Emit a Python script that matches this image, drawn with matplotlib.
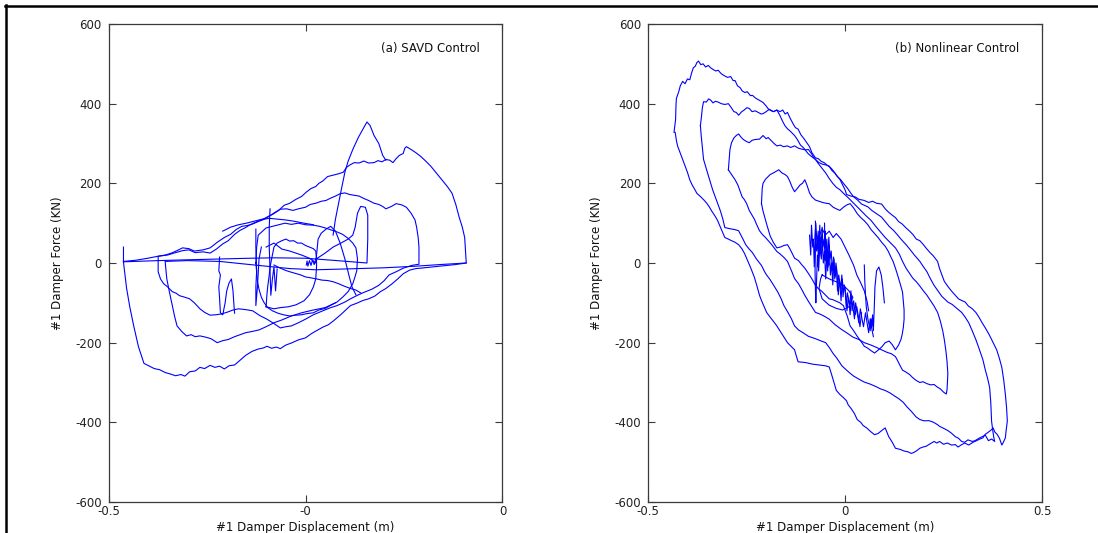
import matplotlib.pyplot as plt
from matplotlib.lines import Line2D

# ---- data (displacement m, force KN) ----
savd_paths = [
    # outer loop
    [(-0.481, 40), (-0.481, 2), (-0.479, -30), (-0.477, -64), (-0.473, -110), (-0.468, -158),
     (-0.462, -210), (-0.455, -252), (-0.449, -258), (-0.442, -265), (-0.435, -268), (-0.428, -275),
     (-0.421, -279), (-0.415, -283), (-0.408, -280), (-0.403, -284), (-0.397, -273), (-0.390, -271),
     (-0.384, -262), (-0.378, -265), (-0.371, -257), (-0.365, -262), (-0.359, -259), (-0.353, -266),
     (-0.347, -258), (-0.340, -256), (-0.333, -244), (-0.326, -232), (-0.318, -222), (-0.310, -216),
     (-0.303, -213), (-0.299, -209), (-0.293, -214), (-0.287, -211), (-0.282, -215), (-0.275, -206),
     (-0.268, -201), (-0.259, -193), (-0.250, -188), (-0.243, -178), (-0.237, -171), (-0.228, -161),
     (-0.221, -155), (-0.215, -146), (-0.206, -131), (-0.199, -118), (-0.193, -107), (-0.185, -101),
     (-0.177, -94), (-0.170, -90), (-0.162, -83), (-0.155, -72), (-0.148, -64), (-0.140, -52),
     (-0.133, -40), (-0.126, -27), (-0.118, -18), (-0.110, -14), (-0.104, -13), (-0.090, -10),
     (-0.075, -7), (-0.060, -4), (-0.046, 0), (-0.047, 30), (-0.048, 64), (-0.051, 90),
     (-0.055, 115), (-0.059, 145), (-0.064, 175), (-0.070, 192), (-0.077, 209), (-0.084, 226),
     (-0.091, 243), (-0.097, 255), (-0.104, 268), (-0.110, 277), (-0.116, 285), (-0.122, 292),
     (-0.124, 288), (-0.126, 275), (-0.131, 270), (-0.135, 262), (-0.139, 252), (-0.143, 258),
     (-0.148, 260), (-0.153, 254), (-0.158, 257), (-0.163, 252), (-0.170, 251), (-0.176, 256),
     (-0.182, 251), (-0.188, 252), (-0.193, 247), (-0.198, 240), (-0.202, 228), (-0.208, 224),
     (-0.214, 221), (-0.222, 217), (-0.228, 206), (-0.233, 200), (-0.237, 192), (-0.243, 187),
     (-0.249, 178), (-0.255, 167), (-0.262, 160), (-0.270, 150), (-0.277, 145), (-0.284, 132),
     (-0.291, 123), (-0.298, 116), (-0.304, 110), (-0.309, 106), (-0.316, 100), (-0.322, 94),
     (-0.326, 89), (-0.333, 82), (-0.340, 72), (-0.348, 56), (-0.355, 48), (-0.363, 35),
     (-0.371, 25), (-0.380, 28), (-0.390, 26), (-0.398, 33), (-0.406, 31), (-0.415, 26),
     (-0.425, 20), (-0.437, 17), (-0.450, 12), (-0.465, 7), (-0.481, 4)],
    # the 350 KN peak
    [(-0.215, 70), (-0.212, 110), (-0.210, 130), (-0.205, 180), (-0.200, 228), (-0.196, 255),
     (-0.190, 285), (-0.183, 315), (-0.176, 340), (-0.172, 354), (-0.168, 345), (-0.163, 320),
     (-0.157, 300), (-0.152, 270), (-0.148, 258)],
    # second loop
    [(-0.106, 0), (-0.106, 40), (-0.107, 64), (-0.109, 90), (-0.111, 108), (-0.116, 125),
     (-0.122, 140), (-0.128, 146), (-0.135, 149), (-0.141, 142), (-0.148, 136), (-0.152, 142),
     (-0.157, 147), (-0.163, 150), (-0.170, 157), (-0.176, 162), (-0.182, 168), (-0.188, 170),
     (-0.194, 172), (-0.200, 176), (-0.206, 174), (-0.212, 168), (-0.218, 163), (-0.224, 157),
     (-0.230, 155), (-0.237, 150), (-0.244, 147), (-0.250, 140), (-0.259, 136), (-0.266, 132),
     (-0.274, 136), (-0.282, 135), (-0.288, 128), (-0.295, 119), (-0.302, 110), (-0.310, 104),
     (-0.317, 98), (-0.324, 94), (-0.331, 92), (-0.338, 84), (-0.345, 72), (-0.353, 64),
     (-0.362, 52), (-0.371, 38), (-0.380, 33), (-0.391, 30), (-0.398, 36), (-0.406, 38),
     (-0.412, 32), (-0.420, 25), (-0.428, 20), (-0.437, 17), (-0.437, 4), (-0.437, -22),
     (-0.434, -40), (-0.430, -52), (-0.425, -60), (-0.419, -72), (-0.414, -76), (-0.410, -82),
     (-0.403, -86), (-0.397, -90), (-0.391, -100), (-0.384, -115), (-0.378, -124), (-0.371, -131),
     (-0.364, -130), (-0.357, -128), (-0.350, -124), (-0.342, -118), (-0.335, -115), (-0.326, -117),
     (-0.317, -120), (-0.308, -132), (-0.299, -141), (-0.290, -152), (-0.282, -163), (-0.275, -160),
     (-0.268, -158), (-0.259, -150), (-0.250, -141), (-0.240, -130), (-0.228, -120), (-0.218, -112),
     (-0.210, -107), (-0.200, -98), (-0.193, -90), (-0.183, -80), (-0.175, -73), (-0.166, -66),
     (-0.157, -56), (-0.150, -44), (-0.144, -30), (-0.135, -22), (-0.126, -13), (-0.115, -6),
     (-0.106, -3)],
    # third loop (lower left)
    [(-0.428, 2), (-0.427, -20), (-0.426, -40), (-0.423, -70), (-0.419, -107), (-0.416, -135),
     (-0.413, -158), (-0.407, -172), (-0.401, -183), (-0.395, -180), (-0.390, -185), (-0.384, -183),
     (-0.377, -186), (-0.370, -190), (-0.362, -200), (-0.355, -195), (-0.348, -192), (-0.340, -185),
     (-0.333, -180), (-0.326, -175), (-0.318, -172), (-0.309, -168), (-0.300, -160), (-0.290, -150),
     (-0.280, -143), (-0.268, -133), (-0.255, -125), (-0.240, -118), (-0.225, -112), (-0.212, -100)],
    # horizontal chords and vertical jump
    [(-0.481, 3), (-0.437, 6), (-0.400, 8), (-0.360, 10), (-0.320, 12), (-0.290, 13),
     (-0.250, 12), (-0.210, 6), (-0.172, 0), (-0.171, 60), (-0.171, 120), (-0.174, 140),
     (-0.180, 142), (-0.184, 125), (-0.187, 90), (-0.190, 70), (-0.196, 60), (-0.205, 50),
     (-0.215, 40), (-0.225, 25), (-0.235, 12)],
    [(-0.046, 0), (-0.080, -4), (-0.110, -8), (-0.150, -12), (-0.200, -15), (-0.237, -17),
     (-0.270, -14), (-0.300, -8), (-0.330, -2), (-0.359, 4), (-0.400, 6), (-0.428, 4)],
    # inner eye
    [(-0.313, 0), (-0.312, 40), (-0.310, 70), (-0.300, 88), (-0.292, 92), (-0.284, 96),
     (-0.276, 100), (-0.268, 97), (-0.259, 100), (-0.250, 96), (-0.240, 95), (-0.232, 92),
     (-0.225, 88), (-0.216, 82), (-0.210, 78), (-0.203, 72), (-0.196, 62), (-0.190, 50),
     (-0.186, 38), (-0.184, 10), (-0.185, -20), (-0.188, -40), (-0.190, -52), (-0.196, -72),
     (-0.203, -86), (-0.210, -98), (-0.218, -106), (-0.225, -114), (-0.233, -118), (-0.240, -125),
     (-0.248, -127), (-0.255, -130), (-0.262, -131), (-0.270, -133), (-0.278, -130), (-0.285, -126),
     (-0.292, -120), (-0.298, -112), (-0.303, -98), (-0.306, -86), (-0.309, -66), (-0.311, -46),
     (-0.313, 0)],
    # inner loops around the centre
    [(-0.300, -110), (-0.299, -80), (-0.298, -60), (-0.296, -30), (-0.295, -10), (-0.292, 20),
     (-0.290, 40), (-0.286, 50), (-0.280, 56), (-0.275, 60), (-0.270, 55), (-0.265, 56),
     (-0.260, 50), (-0.255, 50), (-0.250, 44), (-0.245, 40), (-0.240, 36), (-0.237, 30),
     (-0.236, 10), (-0.236, -10), (-0.237, -40), (-0.240, -60), (-0.245, -80), (-0.252, -95),
     (-0.262, -105), (-0.272, -110), (-0.282, -112), (-0.290, -115), (-0.300, -110)],
    [(-0.290, -5), (-0.283, -12), (-0.276, -18), (-0.270, -22), (-0.263, -26), (-0.256, -30),
     (-0.250, -35), (-0.244, -37), (-0.236, -40), (-0.229, -43), (-0.222, -44), (-0.215, -47),
     (-0.208, -52), (-0.201, -58), (-0.193, -64), (-0.186, -68), (-0.180, -75)],
    [(-0.355, 80), (-0.345, 90), (-0.335, 96), (-0.325, 100), (-0.315, 105), (-0.305, 110),
     (-0.295, 112), (-0.285, 110), (-0.275, 108), (-0.265, 105), (-0.252, 100), (-0.240, 96)],
    # spikes
    [(-0.359, 15), (-0.360, -20), (-0.358, -30), (-0.360, -60), (-0.359, -90), (-0.358, -125),
     (-0.355, -130), (-0.352, -100), (-0.350, -70), (-0.347, -50), (-0.344, -40), (-0.342, -70),
     (-0.341, -100), (-0.340, -126)],
    [(-0.313, 85), (-0.313, 40), (-0.312, -20), (-0.313, -60), (-0.313, -107), (-0.311, -60),
     (-0.309, 10), (-0.306, 40)],
    [(-0.295, 136), (-0.296, 90), (-0.296, 40), (-0.295, -20), (-0.294, -81), (-0.292, -40),
     (-0.290, -10), (-0.288, -70), (-0.286, -15)],
    [(-0.300, 40), (-0.290, 50), (-0.280, 35), (-0.270, 30), (-0.255, 20), (-0.245, 12),
     (-0.237, 0), (-0.234, 60), (-0.230, 75), (-0.224, 85), (-0.218, 92), (-0.212, 80),
     (-0.206, 50), (-0.200, 10), (-0.195, -30), (-0.191, -60), (-0.186, -80)],
    [(-0.249, -5), (-0.248, 5), (-0.247, -8), (-0.245, 6), (-0.243, -6), (-0.241, 8),
     (-0.239, -4), (-0.237, 10)],
]

nonlinear_paths = [
    # outermost loop
    [(-0.434, 328), (-0.430, 360), (-0.429, 395), (-0.428, 413), (-0.422, 430), (-0.418, 445),
     (-0.412, 456), (-0.406, 450), (-0.400, 462), (-0.394, 460), (-0.389, 478), (-0.385, 490),
     (-0.380, 494), (-0.376, 503), (-0.372, 507), (-0.366, 498), (-0.360, 500), (-0.354, 492),
     (-0.347, 496), (-0.341, 490), (-0.335, 486), (-0.328, 482), (-0.322, 484), (-0.314, 475),
     (-0.306, 470), (-0.298, 466), (-0.290, 468), (-0.284, 458), (-0.279, 458), (-0.273, 445),
     (-0.266, 440), (-0.261, 432), (-0.254, 428), (-0.248, 430), (-0.240, 420), (-0.235, 421),
     (-0.227, 414), (-0.220, 410), (-0.213, 406), (-0.208, 403), (-0.200, 394), (-0.194, 386),
     (-0.187, 382), (-0.181, 380), (-0.173, 384), (-0.165, 380), (-0.158, 384), (-0.152, 374),
     (-0.146, 378), (-0.140, 365), (-0.132, 350), (-0.126, 340), (-0.119, 336), (-0.112, 322),
     (-0.104, 312), (-0.097, 302), (-0.090, 292), (-0.084, 277), (-0.079, 270), (-0.075, 264),
     (-0.068, 262), (-0.060, 255), (-0.053, 252), (-0.046, 246), (-0.040, 242), (-0.033, 232),
     (-0.026, 226), (-0.020, 218), (-0.013, 210), (-0.006, 196), (0.000, 184), (0.004, 172),
     (0.015, 168), (0.026, 166), (0.035, 160), (0.049, 157), (0.060, 152), (0.070, 155),
     (0.080, 150), (0.093, 148), (0.102, 136), (0.110, 128), (0.120, 120), (0.128, 114),
     (0.136, 104), (0.145, 98), (0.155, 88), (0.164, 80), (0.172, 72), (0.181, 60), (0.190, 56),
     (0.199, 46), (0.207, 36), (0.216, 26), (0.224, 18), (0.235, 4), (0.240, -14), (0.246, -30),
     (0.252, -46), (0.262, -60), (0.270, -70), (0.279, -80), (0.288, -90), (0.296, -94),
     (0.305, -98), (0.313, -108), (0.322, -114), (0.332, -124), (0.340, -136), (0.348, -150),
     (0.358, -166), (0.366, -180), (0.374, -196), (0.385, -218), (0.392, -240), (0.398, -262),
     (0.403, -295), (0.407, -330), (0.410, -362), (0.412, -397), (0.409, -420), (0.407, -439),
     (0.402, -450), (0.398, -457), (0.392, -440), (0.386, -430), (0.380, -424), (0.376, -414),
     (0.370, -420), (0.362, -426), (0.356, -430), (0.350, -439), (0.342, -442), (0.334, -446),
     (0.325, -450), (0.314, -457), (0.304, -452), (0.296, -456), (0.287, -462), (0.280, -456),
     (0.270, -457), (0.260, -452), (0.250, -455), (0.240, -448), (0.233, -452), (0.226, -448),
     (0.216, -454), (0.206, -460), (0.198, -462), (0.190, -465), (0.181, -472), (0.174, -476),
     (0.168, -478), (0.160, -474), (0.150, -472), (0.140, -468), (0.128, -465), (0.120, -450),
     (0.111, -436), (0.102, -414), (0.094, -420), (0.084, -428), (0.075, -431), (0.066, -424),
     (0.055, -414), (0.046, -408), (0.040, -400), (0.031, -393), (0.024, -378), (0.016, -366),
     (0.008, -356), (0.004, -346), (-0.004, -338), (-0.013, -330), (-0.022, -320), (-0.028, -300),
     (-0.034, -280), (-0.040, -261), (-0.050, -258), (-0.066, -256), (-0.082, -254), (-0.100, -250),
     (-0.119, -248), (-0.124, -232), (-0.128, -218), (-0.136, -210), (-0.146, -200), (-0.155, -186),
     (-0.164, -172), (-0.173, -158), (-0.182, -146), (-0.190, -136), (-0.199, -124), (-0.206, -108),
     (-0.212, -94), (-0.217, -81), (-0.224, -56), (-0.230, -36), (-0.239, -13), (-0.248, 8),
     (-0.255, 24), (-0.262, 36), (-0.270, 46), (-0.279, 52), (-0.288, 56), (-0.296, 60),
     (-0.305, 64), (-0.312, 80), (-0.318, 94), (-0.323, 106), (-0.330, 118), (-0.338, 130),
     (-0.344, 140), (-0.350, 149), (-0.358, 158), (-0.366, 166), (-0.376, 175), (-0.382, 186),
     (-0.388, 196), (-0.394, 209), (-0.400, 228), (-0.406, 244), (-0.412, 260), (-0.418, 276),
     (-0.425, 294), (-0.428, 308), (-0.431, 328)],
    # second loop
    [(-0.367, 345), (-0.364, 370), (-0.362, 390), (-0.359, 405), (-0.352, 404), (-0.346, 412),
     (-0.341, 409), (-0.335, 402), (-0.329, 406), (-0.322, 404), (-0.314, 400), (-0.305, 398),
     (-0.296, 400), (-0.290, 392), (-0.282, 380), (-0.276, 378), (-0.270, 371), (-0.262, 380),
     (-0.256, 384), (-0.249, 390), (-0.243, 388), (-0.236, 380), (-0.228, 382), (-0.220, 378),
     (-0.213, 374), (-0.208, 375), (-0.200, 380), (-0.192, 386), (-0.182, 380), (-0.173, 384),
     (-0.166, 372), (-0.158, 355), (-0.152, 344), (-0.146, 337), (-0.140, 332), (-0.134, 326),
     (-0.128, 320), (-0.121, 310), (-0.113, 296), (-0.106, 290), (-0.102, 285), (-0.094, 275),
     (-0.086, 268), (-0.075, 260), (-0.066, 252), (-0.057, 248), (-0.048, 246), (-0.040, 243),
     (-0.030, 232), (-0.020, 218), (-0.010, 208), (-0.004, 200), (0.006, 188), (0.015, 175),
     (0.022, 166), (0.032, 158), (0.042, 148), (0.058, 141), (0.068, 132), (0.080, 124),
     (0.093, 115), (0.102, 104), (0.112, 92), (0.124, 81), (0.132, 72), (0.142, 60),
     (0.155, 46), (0.165, 34), (0.176, 20), (0.190, 4), (0.198, -8), (0.208, -22),
     (0.216, -38), (0.226, -56), (0.236, -70), (0.246, -84), (0.261, -98), (0.272, -104),
     (0.284, -114), (0.296, -124), (0.305, -136), (0.314, -150), (0.322, -168), (0.332, -192),
     (0.340, -214), (0.350, -243), (0.356, -268), (0.362, -290), (0.367, -312), (0.370, -350),
     (0.372, -397), (0.375, -420), (0.378, -440), (0.380, -448), (0.372, -442), (0.364, -446),
     (0.356, -432), (0.350, -435), (0.340, -440), (0.330, -446), (0.323, -448), (0.312, -444),
     (0.304, -450), (0.296, -448), (0.288, -440), (0.280, -436), (0.270, -427), (0.260, -420),
     (0.250, -415), (0.240, -410), (0.235, -406), (0.225, -400), (0.214, -396), (0.200, -396),
     (0.190, -393), (0.180, -386), (0.168, -372), (0.158, -362), (0.148, -350), (0.137, -341),
     (0.126, -334), (0.114, -326), (0.102, -320), (0.090, -316), (0.078, -310), (0.064, -304),
     (0.049, -299), (0.036, -292), (0.022, -284), (0.012, -276), (0.004, -269), (-0.008, -258),
     (-0.020, -240), (-0.031, -226), (-0.040, -212), (-0.049, -200), (-0.060, -196), (-0.075, -190),
     (-0.093, -184), (-0.105, -176), (-0.118, -168), (-0.128, -158), (-0.136, -140), (-0.146, -122),
     (-0.155, -107), (-0.162, -90), (-0.170, -74), (-0.181, -56), (-0.190, -42), (-0.199, -30),
     (-0.204, -22), (-0.212, -6), (-0.220, 4), (-0.226, 12), (-0.235, 26), (-0.244, 36),
     (-0.252, 46), (-0.260, 62), (-0.270, 81), (-0.280, 84), (-0.292, 86), (-0.305, 89),
     (-0.310, 110), (-0.316, 130), (-0.323, 149), (-0.330, 168), (-0.336, 184), (-0.341, 200),
     (-0.347, 220), (-0.353, 240), (-0.359, 260), (-0.362, 290), (-0.365, 320), (-0.367, 345)],
    # third loop
    [(-0.296, 234), (-0.294, 260), (-0.292, 285), (-0.288, 302), (-0.282, 314), (-0.276, 320),
     (-0.270, 324), (-0.264, 316), (-0.258, 310), (-0.250, 305), (-0.243, 302), (-0.236, 308),
     (-0.228, 310), (-0.217, 311), (-0.208, 320), (-0.200, 312), (-0.195, 315), (-0.188, 308),
     (-0.180, 300), (-0.173, 294), (-0.164, 296), (-0.156, 292), (-0.146, 294), (-0.138, 290),
     (-0.128, 294), (-0.118, 288), (-0.110, 286), (-0.100, 284), (-0.093, 285), (-0.086, 276),
     (-0.080, 266), (-0.075, 260), (-0.068, 250), (-0.060, 240), (-0.049, 226), (-0.040, 212),
     (-0.031, 200), (-0.022, 190), (-0.013, 184), (-0.004, 175), (0.008, 164), (0.020, 152),
     (0.031, 141), (0.042, 130), (0.054, 118), (0.066, 107), (0.078, 92), (0.090, 78),
     (0.102, 64), (0.114, 52), (0.128, 38), (0.138, 22), (0.146, 4), (0.155, -13),
     (0.164, -26), (0.172, -38), (0.181, -47), (0.190, -58), (0.199, -70), (0.208, -81),
     (0.218, -96), (0.226, -108), (0.235, -124), (0.242, -146), (0.248, -170), (0.252, -192),
     (0.256, -220), (0.259, -248), (0.261, -278), (0.260, -300), (0.259, -318), (0.257, -329),
     (0.250, -324), (0.242, -316), (0.235, -312), (0.226, -305), (0.218, -306), (0.208, -303),
     (0.198, -298), (0.190, -300), (0.181, -295), (0.172, -288), (0.164, -280), (0.155, -274),
     (0.146, -269), (0.140, -258), (0.134, -246), (0.128, -235), (0.118, -228), (0.106, -224),
     (0.093, -218), (0.080, -212), (0.066, -206), (0.049, -200), (0.035, -192), (0.020, -186),
     (0.004, -175), (-0.010, -166), (-0.025, -155), (-0.040, -141), (-0.052, -134), (-0.064, -128),
     (-0.075, -124), (-0.084, -110), (-0.093, -96), (-0.102, -81), (-0.110, -66), (-0.118, -52),
     (-0.128, -39), (-0.134, -24), (-0.140, -10), (-0.146, 4), (-0.155, 14), (-0.164, 22),
     (-0.173, 29), (-0.186, 46), (-0.200, 62), (-0.210, 72), (-0.217, 81), (-0.224, 96),
     (-0.230, 110), (-0.236, 120), (-0.243, 132), (-0.250, 150), (-0.256, 160), (-0.261, 166),
     (-0.266, 180), (-0.272, 196), (-0.279, 209), (-0.288, 222), (-0.296, 234)],
    # fourth loop
    [(-0.212, 149), (-0.211, 170), (-0.210, 188), (-0.208, 200), (-0.202, 210), (-0.196, 216),
     (-0.190, 222), (-0.182, 226), (-0.175, 230), (-0.168, 234), (-0.160, 226), (-0.152, 222),
     (-0.146, 217), (-0.140, 205), (-0.134, 190), (-0.128, 179), (-0.122, 186), (-0.114, 196),
     (-0.108, 200), (-0.102, 209), (-0.096, 194), (-0.090, 176), (-0.084, 166), (-0.075, 158),
     (-0.066, 155), (-0.057, 152), (-0.048, 150), (-0.040, 149), (-0.030, 140), (-0.022, 136),
     (-0.013, 132), (-0.004, 140), (0.005, 146), (0.013, 149), (0.022, 138), (0.031, 124),
     (0.040, 114), (0.049, 106), (0.058, 96), (0.066, 84), (0.075, 74), (0.084, 64),
     (0.093, 52), (0.102, 42), (0.110, 29), (0.116, 16), (0.122, 4), (0.128, -13),
     (0.134, -32), (0.140, -52), (0.146, -73), (0.148, -96), (0.150, -118), (0.150, -141),
     (0.148, -162), (0.145, -180), (0.142, -192), (0.136, -206), (0.128, -218), (0.120, -205),
     (0.112, -196), (0.102, -200), (0.094, -210), (0.085, -218), (0.075, -226), (0.066, -220),
     (0.058, -214), (0.049, -209), (0.040, -196), (0.031, -184), (0.022, -170), (0.013, -158),
     (0.006, -134), (0.000, -118), (-0.004, -107), (-0.013, -100), (-0.022, -96), (-0.031, -92),
     (-0.040, -90), (-0.050, -80), (-0.060, -70), (-0.068, -64), (-0.075, -56), (-0.084, -40),
     (-0.093, -26), (-0.102, -13), (-0.110, -4), (-0.118, 6), (-0.128, 12), (-0.134, 24),
     (-0.140, 36), (-0.146, 46), (-0.155, 44), (-0.164, 40), (-0.173, 38), (-0.182, 52),
     (-0.190, 68), (-0.199, 98), (-0.204, 116), (-0.208, 130), (-0.212, 149)],
    # dense noisy core
    [(-0.090, 70), (-0.087, 20), (-0.085, 95), (-0.082, 40), (-0.080, 60), (-0.078, -10),
     (-0.075, 85), (-0.072, 30), (-0.069, 55), (-0.067, -20), (-0.064, 40), (-0.060, 10),
     (-0.058, 70), (-0.055, 0), (-0.052, 30), (-0.049, -40), (-0.046, 20), (-0.043, -10),
     (-0.040, 45), (-0.037, -30), (-0.034, 0), (-0.031, -55), (-0.028, 10), (-0.025, -35),
     (-0.022, -10), (-0.019, -70), (-0.016, -30), (-0.013, -50), (-0.010, -95), (-0.007, -40),
     (-0.004, -70), (0.000, -60), (0.003, -110), (0.006, -75), (0.010, -95), (0.013, -130),
     (0.016, -85), (0.020, -110), (0.024, -140), (0.027, -100), (0.031, -125), (0.035, -150),
     (0.039, -115), (0.043, -140), (0.047, -160), (0.052, -125), (0.056, -150), (0.060, -175),
     (0.064, -140), (0.068, -165), (0.072, -185)],
    [(-0.076, 60), (-0.074, 100), (-0.071, 45), (-0.068, 80), (-0.066, 20), (-0.063, 65),
     (-0.061, 35), (-0.058, 90), (-0.056, 40), (-0.053, 60), (-0.050, 5), (-0.047, 50),
     (-0.044, 15), (-0.041, 65), (-0.038, 10), (-0.035, 30), (-0.032, -20), (-0.029, 15),
     (-0.026, -40), (-0.023, 0), (-0.020, -25), (-0.017, -80), (-0.014, -45), (-0.011, -65),
     (-0.008, -30), (-0.005, -85), (-0.002, -55), (0.002, -80), (0.005, -120), (0.008, -90),
     (0.012, -105), (0.015, -70), (0.018, -120), (0.022, -95), (0.026, -130), (0.030, -110),
     (0.034, -135), (0.038, -160), (0.042, -125)],
    [(-0.075, 105), (-0.075, 40), (-0.076, -20), (-0.075, -70), (-0.074, -100), (-0.072, -40),
     (-0.070, 20), (-0.068, -10), (-0.066, 50), (-0.064, 95), (-0.062, 30)],
    [(-0.052, 100), (-0.051, 40), (-0.050, 80), (-0.048, 10), (-0.046, 60), (-0.044, -20),
     (-0.042, 30), (-0.040, -5)],
    # small inner loops
    [(-0.058, -30), (-0.040, -40), (-0.020, -48), (-0.004, -56), (0.010, -70), (0.020, -86),
     (0.010, -110), (-0.006, -118), (-0.022, -114), (-0.040, -106), (-0.058, -90), (-0.066, -64),
     (-0.062, -40), (-0.058, -30)],
    [(-0.066, 66), (-0.058, 86), (-0.050, 70), (-0.040, 80), (-0.030, 64), (-0.022, 74),
     (-0.010, 60), (0.000, 40), (0.010, 20), (0.022, -6), (0.030, -30), (0.040, -50),
     (0.049, -70), (0.056, -96), (0.060, -120)],
    [(0.049, -5), (0.050, -40), (0.052, -80), (0.054, -110), (0.058, -140), (0.064, -170),
     (0.066, -140), (0.068, -160), (0.070, -130), (0.072, -170), (0.074, -120), (0.076, -60),
     (0.080, -20), (0.086, -10), (0.092, -30), (0.096, -60), (0.100, -100)],
]

x_ticks_a = [-0.5, -0.25, 0]
x_labels_a = ['-0.5', '-0', '0']
x_ticks_b = [-0.5, 0, 0.5]
x_labels_b = ['-0.5', '0', '0.5']
y_ticks = [-600, -400, -200, 0, 200, 400, 600]

W, H = 1098, 533
fig = plt.figure(figsize=(W / 100, H / 100), dpi=100)

# black frame around the figure (top and left visible)
fig.add_artist(Line2D([5 / W, 1], [1 - 5.5 / H, 1 - 5.5 / H], transform=fig.transFigure,
                      color='black', lw=1.8))
fig.add_artist(Line2D([5.5 / W, 5.5 / W], [0, 1 - 5 / H], transform=fig.transFigure,
                      color='black', lw=1.8))

ax_a = fig.add_axes([108.5 / W, 31 / H, 394 / W, 478 / H])
ax_b = fig.add_axes([648 / W, 31 / H, 394 / W, 478 / H])

panels = [
    (ax_a, savd_paths, (-0.5, 0), x_ticks_a, x_labels_a, '(a) SAVD Control'),
    (ax_b, nonlinear_paths, (-0.5, 0.5), x_ticks_b, x_labels_b, '(b) Nonlinear Control'),
]

for ax, paths, xlim, xt, xl, title in panels:
    for path in paths:
        xs = [p[0] for p in path]
        ys = [p[1] for p in path]
        ax.plot(xs, ys, color='#0000ff', lw=0.8)
    ax.set_xlim(*xlim)
    ax.set_ylim(-600, 600)
    ax.set_xticks(xt)
    ax.set_xticklabels(xl)
    ax.set_yticks(y_ticks)
    ax.set_yticklabels([str(v) for v in y_ticks])
    for s in ax.spines.values():
        s.set_color('#3a3a3a')
        s.set_linewidth(0.9)
    ax.tick_params(direction='in', length=5, width=0.8, color='#3a3a3a',
                   top=True, right=True, labelsize=8.5, labelcolor='#222222')
    ax.tick_params(axis='x', pad=2.5)
    ax.tick_params(axis='y', pad=5)
    ax.set_xlabel('#1 Damper Displacement (m)', fontsize=8.5, color='#111111')
    ax.set_ylabel('#1 Damper Force (KN)', fontsize=8.5, color='#111111')
    ax.xaxis.set_label_coords(0.5, -0.04)
    ax.yaxis.set_label_coords(-0.113, 0.5)
    ax.text(0.943, 0.948, title, transform=ax.transAxes, ha='right', va='center',
            fontsize=8.5, color='#111111')

fig.savefig('out.png', dpi=100)
